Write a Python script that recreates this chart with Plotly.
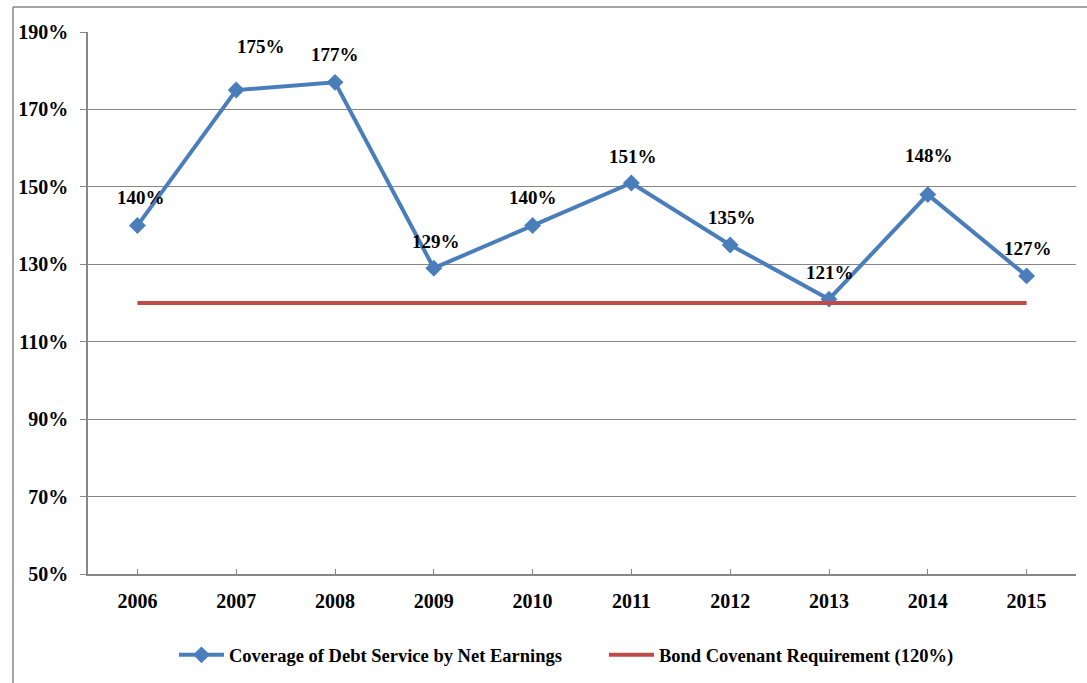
import plotly.graph_objects as go

years = ["2006", "2007", "2008", "2009", "2010", "2011", "2012", "2013", "2014", "2015"]
coverage = [140, 175, 177, 129, 140, 151, 135, 121, 148, 127]
requirement = [120] * len(years)
y_ticks = [50, 70, 90, 110, 130, 150, 170, 190]

# label offsets (px) relative to each point
label_dx = [4, 25, 0, 2, 0, 2, 2, 1, 1, 1]
label_dy = [28, 44, 28, 27, 28, 26, 27, 27, 39, 27]

BLUE = "#4A7EBB"
RED = "#BE4B48"
GRID = "#868686"
FONT = "Liberation Serif"

fig = go.Figure()
fig.add_trace(go.Scatter(
    x=list(range(len(years))), y=coverage, mode="lines+markers",
    name="<b>Coverage of Debt Service by Net Earnings</b>",
    line=dict(color=BLUE, width=4),
    marker=dict(symbol="diamond", size=13, color=BLUE),
))
fig.add_trace(go.Scatter(
    x=list(range(len(years))), y=requirement, mode="lines",
    name="<b>Bond Covenant Requirement (120%)</b>",
    line=dict(color=RED, width=4),
))

annotations = []
for i, (v, dx, dy) in enumerate(zip(coverage, label_dx, label_dy)):
    annotations.append(dict(
        x=i, y=v, xref="x", yref="y", text=f"<b>{v}%</b>", showarrow=False,
        xshift=dx, yshift=dy,
        font=dict(family=FONT, size=19, color="black"),
    ))

# outer frame lines (left and top edges of the chart area)
shapes = [
    dict(type="line", xref="paper", yref="paper",
         x0=-0.0759, x1=-0.0759, y0=-0.3, y1=1.0461,
         line=dict(color=GRID, width=1.5)),
    dict(type="line", xref="paper", yref="paper",
         x0=-0.0759, x1=1.05, y0=1.0461, y1=1.0461,
         line=dict(color=GRID, width=1.5)),
]

fig.update_layout(
    width=1087, height=683,
    margin=dict(l=88, r=11, t=32, b=109, autoexpand=False),
    paper_bgcolor="white", plot_bgcolor="white",
    font=dict(family=FONT, color="black"),
    showlegend=True,
    annotations=annotations,
    shapes=shapes,
    legend=dict(
        orientation="h", x=0.087, xanchor="left", y=-0.115, yanchor="top",
        font=dict(family=FONT, size=18.5, color="black"),
        itemwidth=45, tracegroupgap=0,
        entrywidth=370, entrywidthmode="pixels",
    ),
    xaxis=dict(
        range=[-0.5, 9.5], automargin=False,
        showgrid=False, showline=True, linecolor=GRID, linewidth=1.5,
        ticks="inside", ticklen=5, tickcolor=GRID,
        ticklabelstandoff=8,
        tickvals=list(range(len(years))), ticktext=[f"<b>{y}</b>" for y in years],
        tickfont=dict(family=FONT, size=20, color="black"),
        zeroline=False,
    ),
    yaxis=dict(
        range=[50, 190], tickvals=y_ticks, automargin=False,
        ticktext=[f"<b>{t}%</b>" for t in y_ticks],
        showgrid=True, gridcolor=GRID, gridwidth=1,
        showline=True, linecolor=GRID, linewidth=1.5,
        ticks="outside", ticklen=6, tickcolor=GRID,
        ticklabelstandoff=8,
        tickfont=dict(family=FONT, size=20, color="black"),
        zeroline=False,
    ),
)

fig.write_html("out.html")
